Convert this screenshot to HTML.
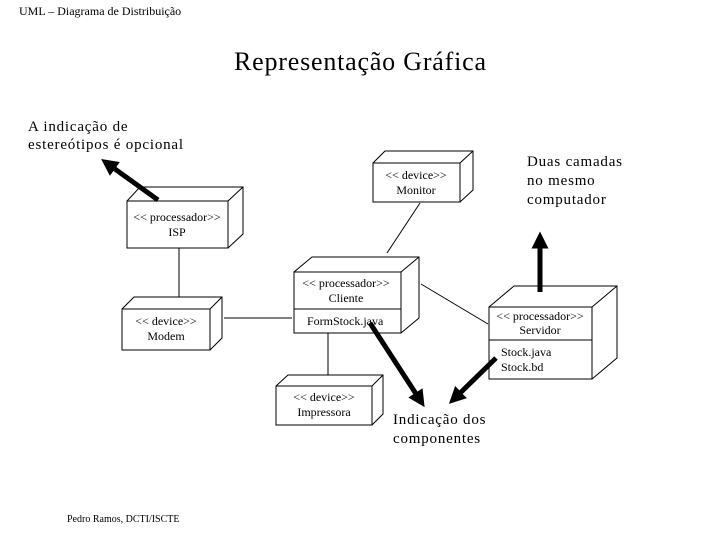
<!DOCTYPE html>
<html><head><meta charset="utf-8"><style>
html,body{margin:0;padding:0;background:#fff}
svg{display:block}
text{font-family:"Liberation Serif",serif;fill:#000}
</style></head><body>
<svg width="720" height="540" viewBox="0 0 720 540" xmlns="http://www.w3.org/2000/svg">
<defs>
<marker id="ah" markerWidth="3.4" markerHeight="3.4" refX="1.7" refY="1.7" orient="auto" markerUnits="strokeWidth">
<path d="M0,0 L3.4,1.7 L0,3.4 z" fill="#000"/></marker>
</defs>
<text x="19" y="15" font-size="12">UML – Diagrama de Distribuição</text>
<text x="360" y="70" font-size="26" text-anchor="middle" textLength="252">Representação Gráfica</text>
<text x="28" y="131" font-size="15" letter-spacing="0.8">A indicação de</text>
<text x="28" y="149" font-size="15" letter-spacing="0.8">estereótipos é opcional</text>
<text x="527" y="166" font-size="15" letter-spacing="0.8">Duas camadas</text>
<text x="527" y="185" font-size="15" letter-spacing="0.8">no mesmo</text>
<text x="527" y="204" font-size="15" letter-spacing="0.8">computador</text>
<text x="393" y="424" font-size="15" letter-spacing="0.8">Indicação dos</text>
<text x="393" y="443" font-size="15" letter-spacing="0.8">componentes</text>
<text x="67" y="522" font-size="10">Pedro Ramos, DCTI/ISCTE</text>

<g fill="none" stroke="#000" stroke-width="1">
<line x1="179" y1="248" x2="179" y2="297"/>
<line x1="224" y1="318" x2="292" y2="318"/>
<line x1="420" y1="203" x2="387" y2="253"/>
<line x1="421" y1="284" x2="488" y2="324"/>
<line x1="328" y1="333" x2="328" y2="375"/>
<rect x="127" y="201" width="101" height="47" fill="#fff"/>
<path d="M127,201 L140,187 L243,187 L243,234 L228,248 M228,201 L243,187"/>
<rect x="373" y="163" width="87" height="39" fill="#fff"/>
<path d="M373,163 L385,151 L473,151 L473,190 L460,202 M460,163 L473,151"/>
<rect x="122" y="309" width="88" height="41" fill="#fff"/>
<path d="M122,309 L134,297 L222,297 L222,338 L210,350 M210,309 L222,297"/>
<rect x="294" y="272" width="107" height="61" fill="#fff"/>
<line x1="294" y1="309" x2="401" y2="309"/>
<path d="M294,272 L312,257 L419,257 L419,318 L401,333 M401,272 L419,257"/>
<rect x="489" y="307" width="103" height="72" fill="#fff"/>
<line x1="489" y1="340" x2="592" y2="340"/>
<path d="M489,307 L514,286 L617,286 L617,358 L592,379 M592,307 L617,286"/>
<rect x="276" y="386" width="96" height="39" fill="#fff"/>
<path d="M276,386 L288,375 L383,375 L383,414 L372,425 M372,386 L383,375"/>
</g>

<g font-size="12" text-anchor="middle">
<text x="177" y="221">&lt;&lt; processador&gt;&gt;</text>
<text x="177" y="236">ISP</text>
<text x="416" y="179">&lt;&lt; device&gt;&gt;</text>
<text x="416" y="194">Monitor</text>
<text x="166" y="325">&lt;&lt; device&gt;&gt;</text>
<text x="166" y="340">Modem</text>
<text x="346" y="287">&lt;&lt; processador&gt;&gt;</text>
<text x="346" y="302">Cliente</text>
<text x="540" y="320">&lt;&lt; processador&gt;&gt;</text>
<text x="540" y="334">Servidor</text>
<text x="324" y="401">&lt;&lt; device&gt;&gt;</text>
<text x="324" y="416">Impressora</text>
</g>
<g font-size="12">
<text x="307" y="325">FormStock.java</text>
<text x="501" y="356">Stock.java</text>
<text x="501" y="371">Stock.bd</text>
</g>

<g stroke="#000" stroke-width="5" marker-end="url(#ah)">
<line x1="158" y1="200" x2="108" y2="164"/>
<line x1="540" y1="292" x2="540" y2="240"/>
<line x1="370" y1="323" x2="420" y2="400"/>
<line x1="496" y1="358" x2="455" y2="398"/>
</g>
</svg>
</body></html>
